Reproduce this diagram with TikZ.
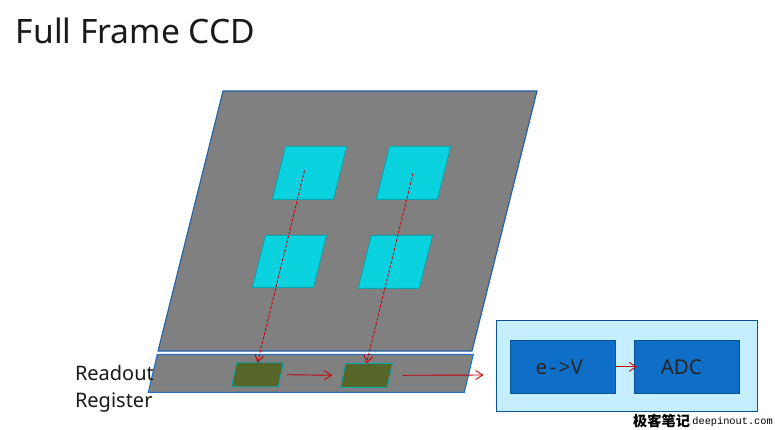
\documentclass[tikz,border=0pt]{standalone}
\usepackage{fontspec}
\setmainfont{Noto Sans}
\newfontfamily\cjkfont{Noto Sans CJK SC}
\newfontfamily\wmfont{Liberation Mono}
\usetikzlibrary{arrows.meta,positioning}
\definecolor{panelgray}{HTML}{808080}
\definecolor{edgeblue}{HTML}{1F5FA8}
\definecolor{cellcyan}{HTML}{0AD2DE}
\definecolor{celledge}{HTML}{08A5AE}
\definecolor{regedge}{HTML}{1F70C4}
\definecolor{reggreen}{HTML}{566628}
\definecolor{adcback}{HTML}{C5EFFF}
\definecolor{adcblue}{HTML}{0F6FC6}
\definecolor{adcedge}{HTML}{0B5394}
\definecolor{wirered}{HTML}{C8000A}
\tikzset{
  slantat/.style n args={2}{cm={1,0,#1,1,#2},transform shape},
  slantbox/.style={rectangle,inner sep=0pt,outer sep=0pt},
  panelbox/.style={slantbox,draw=edgeblue,fill=panelgray,line width=1.1pt,
    minimum width=314pt,minimum height=260pt},
  regbox/.style={slantbox,draw=regedge,fill=panelgray,line width=1.1pt,
    minimum width=316pt,minimum height=38pt},
  cellbox/.style={slantbox,draw=celledge,fill=cellcyan,line width=0.9pt,
    minimum width=61pt,minimum height=53pt},
  storebox/.style={slantbox,draw=celledge,fill=reggreen,line width=0.9pt,
    minimum width=46.6pt,minimum height=24pt},
  backbox/.style={rectangle,draw=adcedge,fill=adcback,line width=0.9pt,
    inner sep=0pt,outer sep=0pt,minimum width=261pt,minimum height=91pt},
  adcbox/.style={rectangle,draw=adcedge,fill=adcblue,line width=0.9pt,
    inner sep=0pt,outer sep=0pt,minimum width=105.7pt,minimum height=53pt,
    font=\fontsize{20.5}{24}\selectfont,text=black!85},
  wire/.style={-{Straight Barb[length=7pt,width=9pt]},draw=wirered,line width=0.9pt},
  dwire/.style={wire,dash pattern=on 3pt off 1.5pt},
  plaintext/.style={inner sep=0pt,outer sep=0pt,text=black!90},
}
\begin{document}
\begin{tikzpicture}[x=1pt,y=-1pt]
  \useasboundingbox (0,0) rectangle (775,429);
  \node[plaintext,anchor=west,font=\fontsize{33.6}{40}\selectfont] (title) at (16,31) {Full Frame CCD};
  \node[panelbox,slantat={.25}{(347.5,221)}] (panel) {};
  \node[cellbox,slantat={.25}{(309.5,172.8)}] (cellA) {};
  \node[cellbox,slantat={.25}{(413.5,172.8)}] (cellB) {};
  \node[cellbox,minimum height=52pt,slantat={.25}{(289.5,261.3)}] (cellC) {};
  \node[cellbox,slantat={.25}{(395.3,261.8)}] (cellD) {};
  \node[regbox,slantat={.237}{(310.8,373.3)}] (reg) {};
  \node[storebox,slantat={.208}{(257.5,374.7)}] (storeA) {};
  \node[storebox,slantat={.208}{(366.5,375.3)}] (storeB) {};
  \node[backbox] (back) at (626.8,365.8) {};
  \node[adcbox] (ev) at (562.8,366.8) {\kern-7pt e\kern2.5pt-\kern2.5pt>V};
  \node[adcbox,right=18.3pt of ev] (adc) {\kern-11pt\raisebox{-2pt}{ADC}};
  \node[plaintext,anchor=north west,align=left,font=\fontsize{20}{26.5}\selectfont] (readout) at (75,365.5) {Readout\\Register};
  \node[anchor=west,inner sep=0pt,font=\cjkfont\bfseries\fontsize{14.2}{16}\selectfont] (wmcn) at (633,421.5) {极客笔记};
  \node[inner sep=0pt,font=\wmfont\fontsize{10.3}{12}\selectfont,right=2pt of wmcn] (wmen) {deepinout.com};
  \coordinate (startA) at (304.5,170.5);
  \coordinate (startB) at (413,173.5);
  \coordinate (out) at (483.5,375);
  \draw[dwire] (startA) -- ([xshift=-2.5pt]storeA.north);
  \draw[dwire] (startB) -- ([xshift=-2.5pt]storeB.north);
  \draw[wire] ([xshift=6pt]storeA.east) -- ([xshift=-11pt]storeB.west);
  \draw[wire] ([xshift=13pt]storeB.east) -- (out);
  \draw[wire] (ev.east) -- ([xshift=3pt]adc.west);
\end{tikzpicture}
\end{document}
